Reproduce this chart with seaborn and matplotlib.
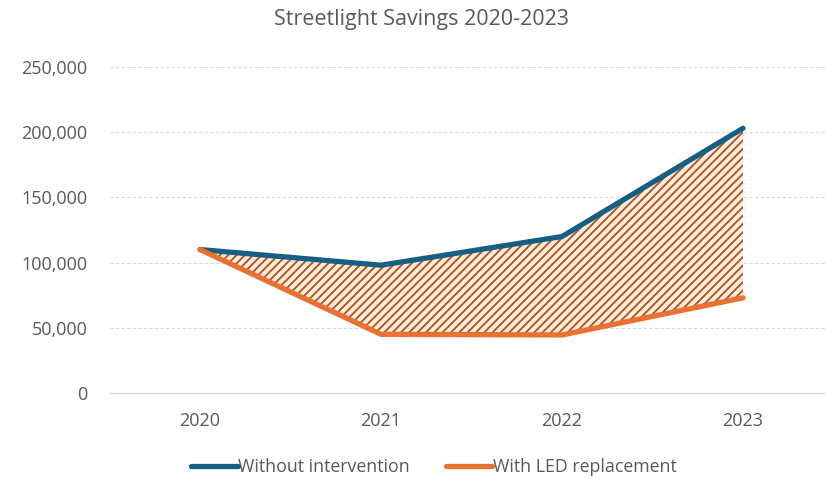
import matplotlib
matplotlib.use("Agg")
import matplotlib.pyplot as plt
import seaborn as sns
import pandas as pd
from matplotlib.ticker import FuncFormatter

years = ["2020", "2021", "2022", "2023"]
without_intervention = [110000, 98000, 120000, 203000]
with_led = [110000, 45000, 44500, 73000]
y_ticks = [0, 50000, 100000, 150000, 200000, 250000]

BLUE = "#156082"
ORANGE = "#E97132"
TEXT = "#595959"
HATCH = "#B9542A"

sns.set_theme(style="white")
plt.rcParams["font.family"] = ["Open Sans", "DejaVu Sans"]
plt.rcParams["hatch.linewidth"] = 1.4
plt.rcParams["hatch.color"] = HATCH

df = pd.DataFrame({
    "Year": years * 2,
    "Cost": without_intervention + with_led,
    "Series": ["Without intervention"] * 4 + ["With LED replacement"] * 4,
})
df["x"] = list(range(len(years))) * 2

fig = plt.figure(figsize=(8.25, 4.79), dpi=100)
ax = fig.add_axes([109.5 / 825, 1 - 393 / 479, (833.5 - 109.5) / 825, (393 - 67) / 479])

xs = list(range(len(years)))
ax.fill_between(xs, with_led, without_intervention, facecolor="#FDF1DC",
                edgecolor=HATCH, hatch="////", linewidth=0, zorder=1)

sns.lineplot(data=df, x="x", y="Cost", hue="Series",
             palette={"Without intervention": BLUE, "With LED replacement": ORANGE},
             linewidth=3.8, ax=ax, legend=False, zorder=3,
             solid_capstyle="round", solid_joinstyle="round")

ax.set_xlim(-0.5, 3.5)
ax.set_ylim(0, 250000)
ax.set_xticks(xs)
ax.set_xticklabels(years)
ax.set_yticks(y_ticks)
ax.yaxis.set_major_formatter(FuncFormatter(lambda v, p: f"{int(v):,}"))
ax.tick_params(axis="both", length=0, labelsize=13, colors=TEXT)
ax.tick_params(axis="y", pad=16)
ax.tick_params(axis="x", pad=14)
ax.set_xlabel("")
ax.set_ylabel("")
ax.grid(axis="y", color="#D9D9D9", linestyle=(0, (3, 2)), linewidth=0.8)
ax.set_axisbelow(True)
for side in ["top", "left", "right"]:
    ax.spines[side].set_visible(False)
ax.spines["bottom"].set_color("#D9D9D9")
ax.spines["bottom"].set_linewidth(0.9)

fig.text(422 / 825, 1 - 19 / 479, "Streetlight Savings 2020-2023",
         ha="center", va="center", fontsize=15.5, color=TEXT)

handles = [
    plt.Line2D([], [], color=BLUE, linewidth=3.8, solid_capstyle="round"),
    plt.Line2D([], [], color=ORANGE, linewidth=3.8, solid_capstyle="round"),
]
fig.legend(handles, ["Without intervention", "With LED replacement"],
           loc="center", bbox_to_anchor=(434 / 825, 1 - 467 / 479), ncol=2,
           frameon=False, fontsize=12.8, labelcolor=TEXT, handlelength=2.6,
           handletextpad=0.05, columnspacing=2.0)

fig.savefig("out.png", dpi=100)
